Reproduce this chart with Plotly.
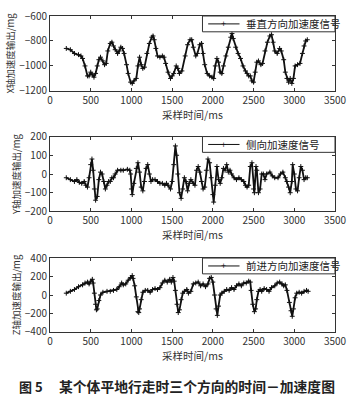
import plotly.graph_objects as go

# X axis (vertical) acceleration
x_t = [200,250,300,350,380,400,430,460,480,500,520,540,560,580,600,620,650,670,690,710,740,760,780,800,830,850,870,890,910,940,960,990,1010,1030,1060,1080,1100,1120,1140,1160,1190,1220,1250,1265,1280,1300,1320,1350,1380,1400,1420,1450,1480,1500,1520,1550,1570,1590,1620,1660,1690,1720,1740,1760,1790,1810,1840,1860,1880,1900,1930,1960,1990,2010,2030,2050,2070,2090,2110,2130,2160,2190,2220,2235,2250,2280,2310,2340,2370,2400,2420,2440,2460,2480,2500,2520,2540,2560,2590,2610,2640,2670,2700,2720,2740,2760,2790,2820,2840,2870,2890,2910,2930,2950,2970,2990,3010,3040,3070,3100,3120,3140,3160]
x_v = [-860,-870,-900,-910,-920,-940,-1000,-1080,-1080,-1050,-1070,-1090,-1060,-1000,-950,-930,-960,-990,-980,-880,-820,-810,-840,-870,-900,-880,-850,-860,-900,-990,-1060,-1130,-1140,-1120,-1100,-1000,-930,-990,-1020,-1010,-900,-820,-770,-760,-790,-860,-920,-930,-920,-930,-980,-1050,-1100,-1080,-1060,-1000,-1020,-1060,-1040,-920,-830,-790,-790,-850,-920,-900,-830,-820,-900,-990,-1060,-1080,-1090,-1100,-1000,-940,-970,-1050,-1060,-1000,-920,-850,-770,-740,-780,-850,-900,-940,-1000,-1040,-1060,-1080,-1080,-1120,-1130,-1050,-970,-960,-990,-980,-880,-810,-760,-750,-810,-880,-900,-860,-880,-950,-1050,-1100,-1130,-1100,-1140,-1100,-1000,-990,-980,-900,-840,-800,-790]

# Y axis (lateral) acceleration
y_t = [200,250,300,330,360,390,420,440,460,480,500,515,530,545,560,580,600,620,640,660,680,700,720,740,760,780,800,830,870,900,950,980,990,1000,1010,1030,1060,1080,1100,1120,1140,1160,1180,1200,1220,1240,1260,1290,1320,1350,1380,1410,1430,1450,1480,1500,1520,1540,1555,1570,1590,1610,1630,1650,1670,1690,1710,1730,1760,1780,1800,1820,1840,1860,1880,1900,1920,1940,1960,1980,2000,2010,2030,2050,2070,2090,2110,2130,2150,2170,2190,2210,2230,2260,2290,2320,2350,2380,2400,2420,2440,2460,2480,2500,2510,2530,2540,2560,2580,2600,2620,2640,2660,2700,2730,2760,2800,2830,2860,2890,2910,2930,2950,2970,2980,3000,3020,3040,3060,3080,3100,3120,3140,3160]
y_v = [-20,-30,-40,-30,-45,-50,-40,-60,-70,-20,50,80,20,-80,-140,-120,-30,10,0,-40,-80,-60,-40,-40,-20,-20,0,20,20,20,25,20,0,-80,-110,-50,30,60,10,-70,-90,-40,30,50,0,-40,-30,-30,-40,-50,-50,-60,-50,-60,-80,-40,50,150,100,0,-100,-130,-80,-20,-40,-90,-50,-30,-50,-60,20,40,10,-40,-80,-70,20,80,60,-20,-110,-150,-60,40,-30,-50,-20,30,20,50,10,20,0,-20,-30,-20,-30,-40,-60,-70,-60,40,60,-80,-100,40,20,-100,-80,0,0,-30,0,10,-10,-20,-20,0,10,-20,-40,-70,-100,-40,50,0,-80,-90,-20,40,20,-30,-20,-20]

# Z axis (forward) acceleration
z_t = [200,250,300,350,400,430,460,480,500,520,530,545,560,570,580,600,620,650,700,740,780,820,850,880,900,930,960,990,1010,1020,1040,1060,1080,1090,1100,1120,1140,1170,1200,1230,1260,1290,1320,1350,1380,1410,1440,1470,1490,1510,1525,1540,1560,1575,1590,1610,1630,1650,1680,1700,1730,1760,1790,1820,1850,1880,1910,1940,1960,1980,2000,2020,2040,2055,2070,2090,2110,2140,2170,2200,2230,2260,2290,2320,2350,2380,2410,2440,2460,2470,2490,2510,2525,2540,2560,2580,2600,2630,2660,2690,2720,2760,2790,2820,2850,2870,2890,2910,2940,2960,2975,2990,3010,3030,3060,3090,3120,3150,3170]
z_v = [20,40,60,90,110,130,140,120,150,170,130,20,-100,-160,-150,-60,0,30,40,40,50,60,90,130,110,120,160,190,210,180,100,-20,-180,-190,-150,-50,30,50,50,30,60,70,60,80,130,160,140,170,140,190,150,50,-100,-190,-160,-50,20,40,60,20,40,120,130,140,100,120,90,120,180,190,140,0,-150,-220,-120,0,20,40,60,50,80,60,100,120,100,130,130,150,140,50,-100,-180,-150,-50,40,60,40,70,60,40,80,100,130,140,120,100,110,50,-80,-170,-230,-150,-30,20,30,20,40,50,40]

legend_names = ["垂直方向加速度信号", "侧向加速度信号", "前进方向加速度信号"]
y_titles = ["X轴加速度输出/mg", "Y轴加速度输出/mg", "Z轴加速度输出/mg"]
x_title = "采样时间/ms"
y_ranges = [[-1200, -600], [-200, 200], [-400, 400]]
y_dticks = [200, 100, 200]
fig_label = "图 5"
caption = "某个体平地行走时三个方向的时间－加速度图"

FONT = "Noto Sans CJK SC"
domains = [[0.763, 1.0], [0.3815, 0.6185], [0.0, 0.234]]
series = [(x_t, x_v), (y_t, y_v), (z_t, z_v)]

fig = go.Figure()
for i, (t, v) in enumerate(series):
    k = "" if i == 0 else str(i + 1)
    fig.add_trace(go.Scatter(
        x=t, y=v, mode="lines+markers", name=legend_names[i],
        xaxis="x" + k, yaxis="y" + k, showlegend=False,
        line=dict(color="#111111", width=1.8),
        marker=dict(symbol="cross-thin", size=3.5, line=dict(color="#111111", width=1)),
    ))
    axcommon = dict(showline=True, linecolor="#333", linewidth=1, mirror="ticks",
                    ticks="inside", ticklen=3, tickcolor="#333",
                    tickfont=dict(family=FONT, size=10, color="#333"),
                    showgrid=False, zeroline=False)
    fig.update_layout(**{
        "xaxis" + k: dict(domain=[0, 1], range=[0, 3500], dtick=500, anchor="y" + k,
                          title=dict(text=x_title, font=dict(family=FONT, size=10.5, color="#333"), standoff=1),
                          **axcommon),
        "yaxis" + k: dict(domain=domains[i], range=y_ranges[i], dtick=y_dticks[i], anchor="x" + k,
                          title=dict(text=y_titles[i], font=dict(family=FONT, size=9.5, color="#333"), standoff=2),
                          **axcommon),
    })
    # legend box
    top = domains[i][1]
    fig.add_shape(type="rect", xref="paper", yref="paper",
                  x0=0.535, x1=1.0, y0=top - 0.05, y1=top,
                  line=dict(color="#333", width=1), fillcolor="white")
    fig.add_shape(type="line", xref="paper", yref="paper",
                  x0=0.555, x1=0.665, y0=top - 0.025, y1=top - 0.025,
                  line=dict(color="#111", width=1))
    fig.add_annotation(xref="paper", yref="paper", x=0.61, y=top - 0.025,
                       text="+", showarrow=False, font=dict(size=9, color="#111"),
                       xanchor="center", yanchor="middle")
    fig.add_annotation(xref="paper", yref="paper", x=0.68, y=top - 0.025,
                       text=legend_names[i], showarrow=False,
                       font=dict(family=FONT, size=10.5, color="#222"),
                       xanchor="left", yanchor="middle")

fig.add_annotation(xref="paper", yref="paper", x=-0.115, y=-0.172, text="<b>" + fig_label + "</b>",
                   showarrow=False, xanchor="left", yanchor="middle",
                   font=dict(family=FONT, size=13, color="#222"))
fig.add_annotation(xref="paper", yref="paper", x=0.024, y=-0.172, text="<b>" + caption + "</b>",
                   showarrow=False, xanchor="left", yanchor="middle",
                   font=dict(family=FONT, size=13.8, color="#222"))

fig.update_layout(width=354, height=400, margin=dict(l=50, r=14, t=7, b=68),
                  paper_bgcolor="white", plot_bgcolor="white", showlegend=False)
fig.write_html("out.html")
